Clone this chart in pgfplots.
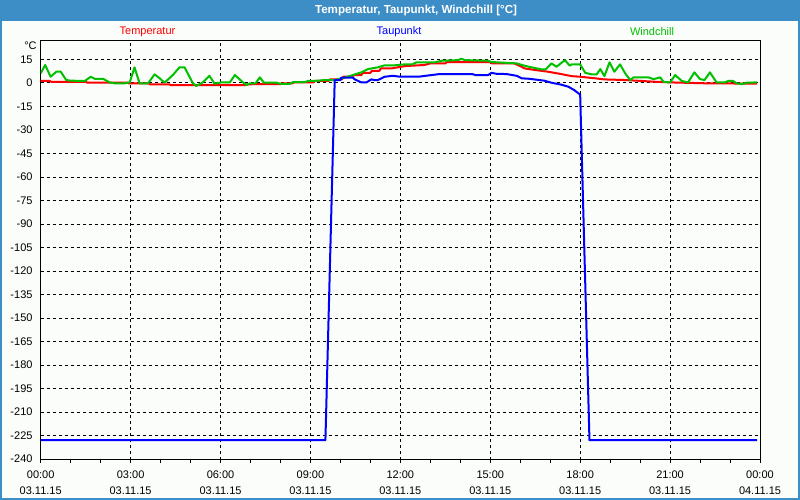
\documentclass[border=0pt]{standalone}
\usepackage{pgfplots}
\pgfplotsset{compat=1.18}
\usepackage{fontspec}
\setmainfont{Liberation Sans}
\definecolor{barblue}{RGB}{61,142,199}
\definecolor{bg}{RGB}{250,253,250}
\definecolor{wgreen}{RGB}{0,192,0}
\begin{document}
\begin{tikzpicture}[x=1pt,y=1pt]
\fill[bg] (0,0) rectangle (800,500);
\fill[barblue] (0,479) rectangle (800,500);
\draw[barblue, line width=2pt] (1,1) rectangle (799,499);
\node[white, font=\bfseries\fontsize{11.6}{13}\selectfont] at (416,489.5) {Temperatur, Taupunkt, Windchill [°C]};
\node[red, font=\fontsize{11}{13}\selectfont] at (147.5,468) {Temperatur};
\node[blue, font=\fontsize{11}{13}\selectfont] at (399,468) {Taupunkt};
\node[wgreen, font=\fontsize{11}{13}\selectfont] at (652,468) {Windchill};
\node[black, font=\fontsize{11}{13}\selectfont] at (30.5,454.5) {°C};
\begin{axis}[
  at={(40.7pt,40pt)}, anchor=south west,
  scale only axis, width=719.3pt, height=419.3pt,
  xmin=0, xmax=24, ymin=-240.6, ymax=26.9,
  axis background/.style={fill=bg},
  axis line style={black, line width=1pt},
  xtick={0,3,...,24},
  xticklabels={{00:00\\03.11.15},{03:00\\03.11.15},{06:00\\03.11.15},{09:00\\03.11.15},{12:00\\03.11.15},{15:00\\03.11.15},{18:00\\03.11.15},{21:00\\03.11.15},{00:00\\04.11.15}},
  minor x tick num=2,
  ytick={-240,-225,...,15},
  yticklabels={-240,-225,-210,-195,-180,-165,-150,-135,-120,-105,-90,-75,-60,-45,-30,-15,0,15},
  tick pos=left,
  tick align=outside,
  major tick length=3pt, minor tick length=3pt,
  every tick/.style={black, line width=1pt},
  ytick style={draw=none},
  grid=major,
  major grid style={black, line width=0.8pt, dash pattern=on 3pt off 3pt},
  tick label style={font=\fontsize{11}{16}\selectfont},
  xticklabel style={align=center, anchor=north, inner sep=0pt, yshift=-8pt},
  yticklabel style={anchor=east, inner sep=0pt, xshift=-5pt},
  /pgf/number format/assume math mode=true,
]
\addplot[red, line width=2pt, line join=round] coordinates {
(0,1.2)(0.3,1.2)(0.35,0.7)(1.5,0.7)(1.55,0.2)(2.9,0.1)(2.95,-0.4)(3.6,-0.4)(3.65,-1.0)(4.3,-1.0)(4.35,-1.5)(6.85,-1.5)(6.9,-0.9)(8.0,-0.8)(8.05,-0.3)(8.4,-0.3)(8.45,0.3)(9.1,0.3)(9.15,1.2)(9.6,1.2)(9.65,2.2)(10.05,2.2)(10.1,3.9)(10.4,3.9)(10.45,5.0)(10.7,5.0)(10.75,6.4)(11.0,6.4)(11.05,7.7)(11.3,7.7)(11.35,9.2)(11.7,9.2)(12.15,10.7)(12.8,11.4)(13.0,12.4)(13.5,12.4)(13.55,13.3)(15.0,13.3)(15.05,12.4)(15.8,12.4)(16.0,10.7)(16.15,9.2)(16.5,8.2)(16.93,7.1)(17.37,5.6)(17.71,4.3)(18.0,3.9)(18.5,2.9)(18.8,2.2)(19.5,1.8)(20.5,0.7)(21.0,0.3)(22.2,-0.3)(23.9,-0.5)
};
\addplot[wgreen, line width=2pt, line join=round] coordinates {
(0,6.1)(0.15,11.4)(0.33,3.9)(0.52,7.1)(0.67,7.1)(0.85,1.8)(1.0,1.4)(1.47,1.2)(1.67,3.9)(1.8,2.6)(2.08,2.6)(2.3,0.3)(2.47,-0.3)(2.8,-0.3)(2.97,0.3)(3.13,9.9)(3.3,-0.3)(3.58,-0.3)(3.8,5.4)(3.97,2.9)(4.13,0.1)(4.41,5.0)(4.63,9.9)(4.8,9.9)(5.08,-0.3)(5.19,-2.0)(5.41,0.3)(5.63,4.5)(5.8,-0.5)(6.03,0.3)(6.31,0.3)(6.48,5.0)(6.75,0.3)(6.87,-1.4)(6.98,-0.3)(7.17,-0.3)(7.31,3.5)(7.45,0.1)(7.87,0.1)(8.0,-0.6)(8.31,-0.6)(8.42,0.5)(8.81,0.5)(8.92,1.2)(9.14,1.2)(9.48,1.8)(9.81,1.8)(10.03,2.9)(10.25,3.9)(10.48,5.4)(10.7,6.7)(10.92,8.8)(11.25,9.9)(11.48,11.2)(11.81,11.2)(12.15,11.8)(12.4,11.8)(12.54,13.1)(13.15,13.1)(13.38,14.1)(13.93,14.5)(14.04,15.4)(14.15,14.5)(14.93,14.1)(15.04,13.3)(15.88,12.4)(16.15,10.9)(16.38,9.9)(16.71,8.6)(16.85,8.6)(17.04,12.4)(17.21,10.3)(17.49,14.5)(17.65,11.0)(17.72,11.8)(18.0,11.8)(18.17,6.4)(18.39,5.4)(18.55,5.4)(18.67,8.8)(18.81,4.3)(18.98,13.1)(19.14,7.1)(19.33,11.8)(19.5,6.1)(19.67,1.8)(19.78,3.5)(20.28,3.5)(20.44,2.4)(20.56,2.9)(20.67,3.5)(20.78,0.7)(21.0,0.3)(21.17,5.0)(21.39,1.2)(21.6,0.3)(21.81,6.7)(22.0,2.4)(22.15,1.8)(22.33,6.7)(22.55,0.3)(22.83,0.3)(22.94,1.2)(23.1,1.2)(23.22,-0.3)(23.39,-0.8)(23.55,0.1)(23.7,0.1)(23.83,0.3)(23.9,0.3)
};
\addplot[blue, line width=2pt, line join=round] coordinates {
(0,-228)(9.5,-228)(9.81,1.8)(10.0,1.8)(10.03,3.3)(10.42,3.3)(10.48,2.2)(10.7,0.3)(10.87,0.3)(11.03,2.2)(11.14,1.8)(11.25,1.8)(11.48,3.9)(11.75,4.5)(12.0,3.9)(12.6,3.9)(12.84,4.5)(13.3,5.6)(14.4,5.6)(14.5,5.0)(14.93,5.0)(15.04,6.4)(15.2,5.8)(15.55,5.6)(15.88,4.5)(16.05,2.9)(16.3,2.6)(16.8,1.4)(17.04,0.1)(17.38,-1.2)(17.61,-2.5)(17.8,-4.6)(18.0,-7.5)(18.31,-228)(23.9,-228)
};
\end{axis}
\path[use as bounding box] (0,0) rectangle (800,500);
\end{tikzpicture}
\end{document}
